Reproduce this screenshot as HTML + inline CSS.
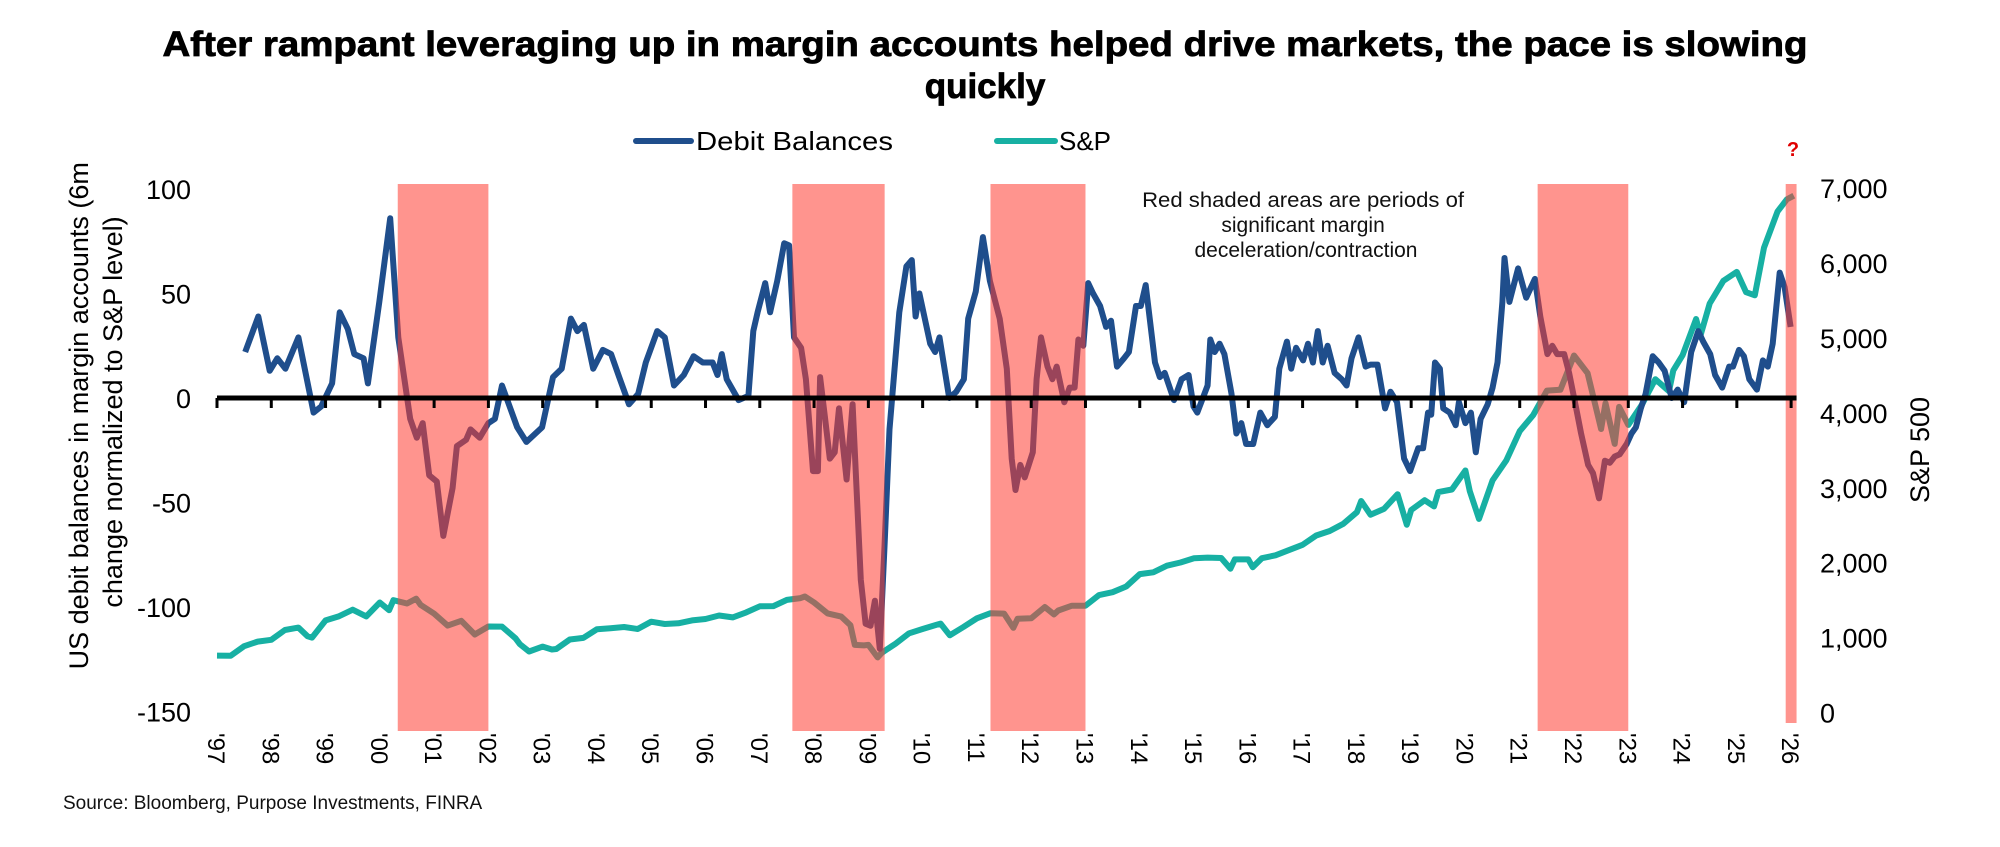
<!DOCTYPE html>
<html><head><meta charset="utf-8">
<style>
html,body{margin:0;padding:0;background:#fff;}
svg{display:block;font-family:"Liberation Sans",sans-serif;}
</style></head>
<body>
<svg id="chart" width="2000" height="847" viewBox="0 0 2000 847" xmlns="http://www.w3.org/2000/svg">
<text x="985" y="56" text-anchor="middle" font-size="35" font-weight="bold" stroke="#000" stroke-width="0.8" textLength="1645" lengthAdjust="spacingAndGlyphs">After rampant leveraging up in margin accounts helped drive markets, the pace is slowing</text>
<text x="985" y="98" text-anchor="middle" font-size="35" font-weight="bold" stroke="#000" stroke-width="0.8">quickly</text>
<g>
<line x1="636" y1="141" x2="691" y2="141" stroke="#1f4e8c" stroke-width="6" stroke-linecap="round"/>
<text x="696" y="150" font-size="26" textLength="197" lengthAdjust="spacingAndGlyphs">Debit Balances</text>
<line x1="997" y1="141" x2="1055" y2="141" stroke="#17b0a3" stroke-width="6" stroke-linecap="round"/>
<text x="1059" y="150" font-size="26">S&amp;P</text>
</g>
<text x="1793" y="156" text-anchor="middle" font-size="20" font-weight="bold" fill="#e00000">?</text>
<text font-size="21" text-anchor="middle" fill="#111">
<tspan x="1306" y="207" textLength="322" lengthAdjust="spacingAndGlyphs">Red shaded areas are periods of</tspan>
<tspan x="1306" y="232">significant margin</tspan>
<tspan x="1306" y="257">deceleration/contraction</tspan>
</text>
<g id="axes"></g>
<g id="series"></g>
<g id="bands"></g>
<g id="zero"></g>
<text font-size="27" text-anchor="middle" transform="translate(88,412) rotate(-90)">
<tspan x="0" y="0">US debit balances in margin accounts (6m</tspan>
<tspan x="0" y="34">change normalized to S&amp;P level)</tspan>
</text>
<text font-size="27" text-anchor="middle" transform="translate(1929,450) rotate(-90)">S&amp;P 500</text>
<text x="63" y="809" font-size="19" fill="#111">Source: Bloomberg, Purpose Investments, FINRA</text>
</svg>
<script>
const yearTicks = ["'97","'98","'99","'00","'01","'02","'03","'04","'05","'06","'07","'08","'09","'10","'11","'12","'13","'14","'15","'16","'17","'18","'19","'20","'21","'22","'23","'24","'25","'26"];
const leftTicks = [100,50,0,-50,-100,-150];
const rightTicks = [7000,6000,5000,4000,3000,2000,1000,0];
const bandStarts = [2000.33,2007.6,2011.25,2021.33,2025.9];
const bandEnds = [2002.0,2009.3,2013.0,2023.0,2026.1];
const debitDates = [1997.52,1997.76,1997.97,1998.11,1998.26,1998.5,1998.78,1998.92,1999.12,1999.26,1999.41,1999.53,1999.7,1999.78,1999.99,2000.19,2000.34,2000.56,2000.68,2000.79,2000.91,2001.05,2001.17,2001.34,2001.42,2001.59,2001.67,2001.84,2002.0,2002.12,2002.25,2002.53,2002.7,2002.99,2003.19,2003.35,2003.52,2003.64,2003.76,2003.93,2004.11,2004.26,2004.41,2004.59,2004.76,2004.9,2005.11,2005.25,2005.42,2005.6,2005.78,2005.95,2006.13,2006.22,2006.3,2006.39,2006.61,2006.79,2006.88,2006.96,2007.1,2007.19,2007.32,2007.45,2007.54,2007.63,2007.76,2007.85,2007.98,2008.07,2008.11,2008.2,2008.29,2008.38,2008.46,2008.6,2008.71,2008.86,2008.95,2009.04,2009.12,2009.21,2009.3,2009.39,2009.57,2009.7,2009.8,2009.87,2009.94,2010.14,2010.23,2010.31,2010.49,2010.62,2010.76,2010.84,2010.98,2011.11,2011.24,2011.42,2011.55,2011.64,2011.71,2011.8,2011.88,2012.03,2012.1,2012.18,2012.3,2012.39,2012.47,2012.61,2012.71,2012.8,2012.87,2012.96,2013.05,2013.14,2013.27,2013.38,2013.47,2013.58,2013.71,2013.8,2013.93,2014.02,2014.11,2014.28,2014.37,2014.46,2014.63,2014.77,2014.9,2014.99,2015.06,2015.25,2015.3,2015.38,2015.47,2015.56,2015.69,2015.78,2015.87,2015.96,2016.09,2016.22,2016.35,2016.49,2016.57,2016.71,2016.79,2016.88,2017.01,2017.1,2017.19,2017.28,2017.37,2017.46,2017.59,2017.72,2017.81,2017.9,2018.03,2018.16,2018.25,2018.38,2018.52,2018.62,2018.74,2018.87,2018.98,2019.13,2019.22,2019.31,2019.37,2019.44,2019.53,2019.59,2019.71,2019.82,2019.88,2020.0,2020.1,2020.19,2020.28,2020.41,2020.5,2020.59,2020.68,2020.72,2020.81,2020.97,2021.12,2021.28,2021.38,2021.51,2021.6,2021.69,2021.82,2021.91,2022.04,2022.13,2022.26,2022.35,2022.46,2022.57,2022.66,2022.75,2022.84,2022.97,2023.06,2023.14,2023.23,2023.32,2023.45,2023.56,2023.67,2023.8,2023.91,2024.03,2024.16,2024.29,2024.38,2024.51,2024.6,2024.73,2024.86,2024.93,2025.04,2025.13,2025.23,2025.37,2025.48,2025.57,2025.66,2025.79,2025.88,2025.99];
const debitValues = [22,39,13,19,14,29,-7,-4,7,41,33,21,19,7,46,86,29,-10,-19,-12,-37,-40,-66,-43,-23,-20,-15,-19,-12,-10,6,-14,-21,-14,10,14,38,32,35,14,23,21,10,-3,2,17,32,29,6,11,20,17,17,11,21,9,-1,1,32,41,55,41,56,74,73,29,24,9,-35,-35,10,-9,-29,-26,-5,-39,-3,-87,-108,-109,-97,-120,-70,-15,41,63,66,39,50,26,22,29,0,3,9,38,51,77,56,38,14,-29,-44,-32,-38,-26,9,29,15,9,15,-2,5,5,28,25,55,50,44,34,37,15,19,22,44,44,54,17,10,12,-1,9,11,-4,-7,6,28,22,26,21,2,-17,-12,-22,-22,-7,-13,-9,14,27,14,24,18,26,17,32,17,25,12,9,6,19,29,15,16,16,-5,3,-2,-29,-35,-24,-24,-7,-8,17,14,-5,-7,-13,-2,-12,-7,-26,-10,-3,5,17,46,67,46,62,48,57,39,21,25,21,21,12,-5,-17,-32,-36,-48,-30,-31,-28,-27,-22,-17,-14,-5,2,20,17,13,0,4,-2,22,32,27,21,11,5,15,15,23,20,9,4,18,15,26,60,53,34];
const spDates = [1997.0,1997.25,1997.5,1997.75,1998.0,1998.25,1998.5,1998.67,1998.75,1999.0,1999.25,1999.5,1999.75,2000.0,2000.17,2000.25,2000.5,2000.67,2000.75,2001.0,2001.25,2001.5,2001.75,2002.0,2002.25,2002.5,2002.58,2002.75,2003.0,2003.17,2003.25,2003.5,2003.75,2004.0,2004.25,2004.5,2004.75,2005.0,2005.25,2005.5,2005.75,2006.0,2006.25,2006.5,2006.75,2007.0,2007.25,2007.5,2007.75,2007.83,2008.0,2008.25,2008.5,2008.67,2008.75,2008.92,2009.0,2009.17,2009.25,2009.5,2009.75,2010.0,2010.25,2010.33,2010.5,2010.75,2011.0,2011.25,2011.5,2011.67,2011.75,2012.0,2012.25,2012.42,2012.5,2012.75,2013.0,2013.25,2013.5,2013.75,2014.0,2014.25,2014.5,2014.75,2015.0,2015.25,2015.5,2015.67,2015.75,2016.0,2016.08,2016.25,2016.5,2016.75,2017.0,2017.25,2017.5,2017.75,2018.0,2018.08,2018.25,2018.5,2018.75,2018.92,2019.0,2019.25,2019.42,2019.5,2019.75,2020.0,2020.08,2020.25,2020.5,2020.75,2021.0,2021.25,2021.5,2021.75,2022.0,2022.25,2022.5,2022.58,2022.75,2022.83,2023.0,2023.25,2023.5,2023.75,2023.83,2024.0,2024.25,2024.33,2024.5,2024.75,2025.0,2025.17,2025.33,2025.5,2025.75,2025.92,2026.05];
const spValues = [760,757,885,947,970,1102,1134,1017,1000,1229,1286,1373,1283,1469,1366,1499,1455,1520,1437,1320,1160,1224,1041,1148,1147,990,912,815,880,841,848,975,996,1112,1126,1141,1115,1212,1181,1191,1229,1248,1295,1270,1336,1418,1421,1503,1527,1549,1468,1323,1280,1166,903,896,903,735,798,919,1057,1115,1169,1187,1031,1141,1258,1326,1321,1131,1253,1258,1408,1310,1362,1426,1426,1569,1606,1682,1848,1872,1960,2003,2059,2068,2063,1920,2044,2044,1940,2060,2099,2168,2239,2363,2423,2519,2674,2824,2641,2718,2914,2507,2704,2834,2752,2942,2977,3231,2954,2585,3100,3363,3756,3973,4298,4308,4766,4530,3785,4130,3586,4080,3840,4109,4450,4288,4568,4770,5254,5035,5460,5762,5882,5612,5570,6205,6688,6850,6900];
</script>
<script>
const NS = "http://www.w3.org/2000/svg";
const X0 = 217, PXYEAR = 54.28;
function xs(t){ return X0 + (t - 1997) * PXYEAR; }
function yl(v){ return 398 - v * 2.09; }
function yr(v){ return 712.5 - v * 0.0749; }
function mk(tag, attrs, parent){ const e = document.createElementNS(NS, tag); for (const k in attrs) e.setAttribute(k, attrs[k]); parent.appendChild(e); return e; }
const axes = document.getElementById('axes');
leftTicks.forEach(v => {
  const t = mk('text', {x: 191, y: yl(v) + 10, 'text-anchor': 'end', 'font-size': 27}, axes);
  
  
  t.textContent = String(v);
});
rightTicks.forEach(v => {
  const t = mk('text', {x: 1820, y: yr(v) + 10, 'font-size': 27}, axes);
  
  
  t.textContent = v.toLocaleString('en-US');
});
yearTicks.forEach((lab, i) => {
  const x = xs(1997 + i);
  const t = mk('text', {'font-size': 24, transform: 'translate(' + (x - 9) + ',733) rotate(90)'}, axes);
  
  
  t.textContent = lab;
});
const series = document.getElementById('series');
function path(dates, vals, yf){ return dates.map((d, i) => (i ? 'L' : 'M') + xs(d).toFixed(1) + ',' + yf(vals[i]).toFixed(1)).join(''); }
const sp = mk('path', {d: path(spDates, spValues, yr), fill: 'none', stroke: '#17b0a3', 'stroke-width': 6, 'stroke-linejoin': 'round'}, series);


const db = mk('path', {d: path(debitDates, debitValues, yl), fill: 'none', stroke: '#1f4e8c', 'stroke-width': 6, 'stroke-linejoin': 'round'}, series);


const zero = document.getElementById('zero');
const zl = mk('line', {x1: xs(1997), x2: xs(2026.1), y1: yl(0), y2: yl(0), stroke: '#000', 'stroke-width': 5}, zero);


yearTicks.forEach((lab, i) => {
  const tk = mk('line', {x1: xs(1997 + i), x2: xs(1997 + i), y1: yl(0), y2: yl(0) + 10, stroke: '#000', 'stroke-width': 3}, zero);
  
  
});
const bands = document.getElementById('bands');
bandStarts.forEach((s, i) => {
  const r = mk('rect', {x: xs(s), y: 184, width: xs(bandEnds[i]) - xs(s), height: i === 4 ? 539 : 547, fill: 'rgb(255,60,50)', 'fill-opacity': 0.55}, bands);
  
  
});
</script>
</body></html>
